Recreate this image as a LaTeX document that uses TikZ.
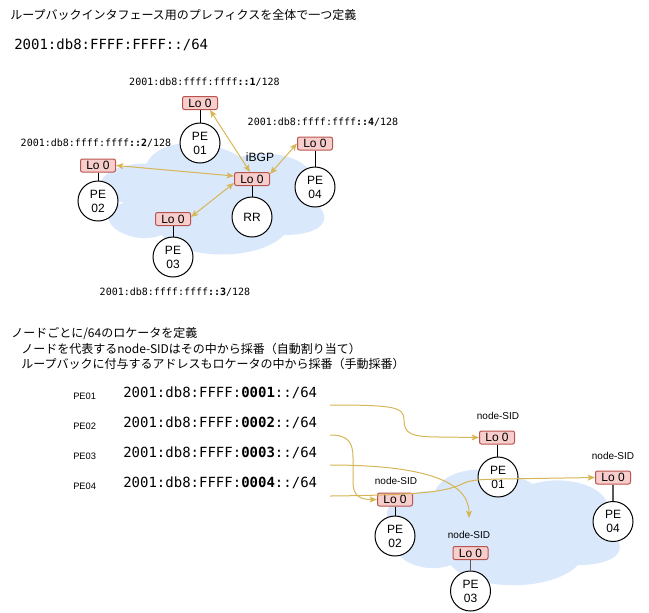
\documentclass[tikz,border=0pt]{standalone}
\usepackage{fontspec}
\setmainfont{Liberation Sans}
\setsansfont{Liberation Sans}
\newfontfamily\jpfont{Noto Sans CJK JP}
\newfontfamily\monofont{DejaVu Sans Mono}
\usetikzlibrary{arrows.meta,calc}
\definecolor{lofill}{HTML}{F8CECC}
\definecolor{loline}{HTML}{B85450}
\definecolor{cloudfill}{HTML}{DAE8FC}
\definecolor{gold}{HTML}{D6B656}
\begin{document}
\begin{tikzpicture}[x=0.75pt,y=-0.75pt,
  lobox/.style={draw=loline, fill=lofill, rounded corners=1.5pt, minimum width=26.25pt, minimum height=9.75pt, inner sep=0pt, line width=0.75pt, font=\fontsize{9}{10.5}\selectfont},
  pe/.style={circle, draw=black, fill=white, minimum size=30pt, inner sep=0pt, line width=0.75pt, align=center, font=\fontsize{9}{10.5}\selectfont},
  tie/.style={draw=black, line width=0.75pt},
  tiegray/.style={draw=black!65, line width=1.1pt},
  tip/.style={Stealth[length=5.5pt,width=4.5pt,inset=1.2pt]},
  bgp/.style={draw=gold, line width=0.75pt, {Stealth[length=5.5pt,width=4.5pt,inset=1.2pt]}-{Stealth[length=5.5pt,width=4.5pt,inset=1.2pt]}},
  sid/.style={draw=gold, line width=0.75pt, -{Stealth[length=5.5pt,width=4.5pt,inset=1.2pt]}},
  jptext/.style={anchor=west, inner sep=0pt, font=\jpfont\fontsize{9}{10.8}\selectfont},
  bigaddr/.style={anchor=west, inner sep=0pt, font=\monofont\fontsize{10.5}{12}\selectfont},
  smalladdr/.style={inner sep=0pt, font=\monofont\fontsize{7.5}{9}\selectfont},
  pelabel/.style={anchor=west, inner sep=0pt, font=\fontsize{7}{8}\selectfont},
  sidlabel/.style={inner sep=0pt, font=\fontsize{7.5}{9}\selectfont},
  plain/.style={inner sep=0pt, font=\fontsize{9}{10.5}\selectfont}
]
\useasboundingbox (0,0) rectangle (649,612);

% ---------- top section ----------
\node[jptext] (title) at (10,15) {ループバックインタフェース用のプレフィクスを全体で一つ定義};
\node[bigaddr] (pfx) at (14,45) {2001:db8:FFFF:FFFF::/64};

\begin{scope}[shift={(84,131)},x=187.5pt,y=-97.5pt]
\fill[cloudfill] (0.25,0.25) .. controls (0.05,0.25) and (0,0.5) .. (0.16,0.55)
  .. controls (0,0.66) and (0.18,0.9) .. (0.31,0.8)
  .. controls (0.4,1) and (0.7,1) .. (0.8,0.8)
  .. controls (1,0.8) and (1,0.6) .. (0.875,0.5)
  .. controls (1,0.3) and (0.8,0.1) .. (0.625,0.2)
  .. controls (0.5,0.05) and (0.3,0.05) .. (0.25,0.25) -- cycle;
\end{scope}

\node[smalladdr] (a1) at (204.5,82) {2001:db8:ffff:ffff\textbf{::1}/128};
\node[smalladdr] (a4) at (323,122) {2001:db8:ffff:ffff\textbf{::4}/128};
\node[smalladdr] (a2) at (96,143) {2001:db8:ffff:ffff\textbf{::2}/128};
\node[smalladdr] (a3) at (175,292) {2001:db8:ffff:ffff\textbf{::3}/128};

\node[lobox] (lo1) at (200,103) {Lo 0};
\node[pe] (pe1) at (200,143) {PE\\01};
\node[lobox] (lo4) at (315,143.5) {Lo 0};
\node[pe] (pe4) at (315,187) {PE\\04};
\node[lobox] (lo2) at (98,165.5) {Lo 0};
\node[pe] (pe2) at (98,201) {PE\\02};
\node[lobox] (lor) at (252,179) {Lo 0};
\node[pe] (rr) at (252,217) {RR};
\node[lobox] (lo3) at (173,219) {Lo 0};
\node[pe] (pe3) at (173,257) {PE\\03};
\node[plain] (ibgp) at (260,157) {iBGP};

\draw[tie] (lo1.south) -- (pe1.north);
\draw[tie] (lo4.south) -- (pe4.north);
\draw[tie] (lo2.south) -- (pe2.north);
\draw[tie] (lor.south) -- (rr.north);
\draw[tie] (lo3.south) -- (pe3.north);

\draw[bgp] ($(lo1.south)+(10,0)$) -- ($(lor.north)+(-2,0)$);
\draw[bgp] (lo2.east) -- ($(lor.west)+(0,-3)$);
\draw[bgp] ($(lo3.east)+(0,-2)$) -- ($(lor.south west)+(0,-3)$);
\draw[bgp] (lo4.west) -- ($(lor.north east)+(0,2)$);

% ---------- bottom section ----------
\node[jptext] (t1) at (11,334) {ノードごとに/64のロケータを定義};
\node[jptext] (t2) at (21,349) {ノードを代表するnode-SIDはその中から採番（自動割り当て）};
\node[jptext] (t3) at (21,364) {ループバックに付与するアドレスもロケータの中から採番（手動採番）};

\node[pelabel] (l1) at (73,396) {PE01};
\node[pelabel] (l2) at (73,426) {PE02};
\node[pelabel] (l3) at (73,456) {PE03};
\node[pelabel] (l4) at (73,486) {PE04};
\node[bigaddr] (b1) at (123,393) {2001:db8:FFFF:\textbf{0001}::/64};
\node[bigaddr] (b2) at (123,423) {2001:db8:FFFF:\textbf{0002}::/64};
\node[bigaddr] (b3) at (123,453) {2001:db8:FFFF:\textbf{0003}::/64};
\node[bigaddr] (b4) at (123,483) {2001:db8:FFFF:\textbf{0004}::/64};

\begin{scope}[shift={(370,457)},x=195pt,y=-101.25pt]
\fill[cloudfill] (0.25,0.25) .. controls (0.05,0.25) and (0,0.5) .. (0.16,0.55)
  .. controls (0,0.66) and (0.18,0.9) .. (0.31,0.8)
  .. controls (0.4,1) and (0.7,1) .. (0.8,0.8)
  .. controls (1,0.8) and (1,0.6) .. (0.875,0.5)
  .. controls (1,0.3) and (0.8,0.1) .. (0.625,0.2)
  .. controls (0.5,0.05) and (0.3,0.05) .. (0.25,0.25) -- cycle;
\end{scope}

\node[sidlabel] (n1) at (498,416) {node-SID};
\node[sidlabel] (n4) at (613,456) {node-SID};
\node[sidlabel] (n2) at (396,481) {node-SID};
\node[sidlabel] (n3) at (469,535) {node-SID};

\node[lobox] (blo1) at (497,437.5) {Lo 0};
\node[pe] (bpe1) at (498,477) {PE\\01};
\node[lobox] (blo4) at (613,477.5) {Lo 0};
\node[pe] (bpe4) at (613,521.5) {PE\\04};
\node[lobox] (blo2) at (395,499.5) {Lo 0};
\node[pe] (bpe2) at (395,536) {PE\\02};
\node[lobox] (blo3) at (470.5,553) {Lo 0};
\node[pe] (bpe3) at (470.5,591) {PE\\03};

\draw[tie] (blo1.south) -- (blo1.south |- bpe1.north);
\draw[tiegray] (blo4.south) -- (bpe4.north);
\draw[tie] (blo2.south) -- (bpe2.north);
\draw[tiegray] (blo3.south) -- (bpe3.north);

\coordinate (s1) at (330,405);
\coordinate (s2) at (330,435);
\coordinate (s3) at (330,465);
\coordinate (s4) at (330,496);
\coordinate (e3) at (469,518);

\draw[sid] (s1) .. controls (395,405) and (404,407) .. (404,420) .. controls (404,434) and (412,437) .. (440,437) -- (blo1.west);
\draw[sid] (s2) .. controls (348,435) and (353,442) .. (353,458) -- (353,482) .. controls (353,496) and (360,499.5) .. (blo2.west);
\draw[sid] (s3) .. controls (420,465) and (469,480) .. (e3);
\draw[sid] (s4) .. controls (420,495) and (445,492) .. (462,484) .. controls (470,480) and (478,479.5) .. (500,479) -- (blo4.west);
\end{tikzpicture}
\end{document}
